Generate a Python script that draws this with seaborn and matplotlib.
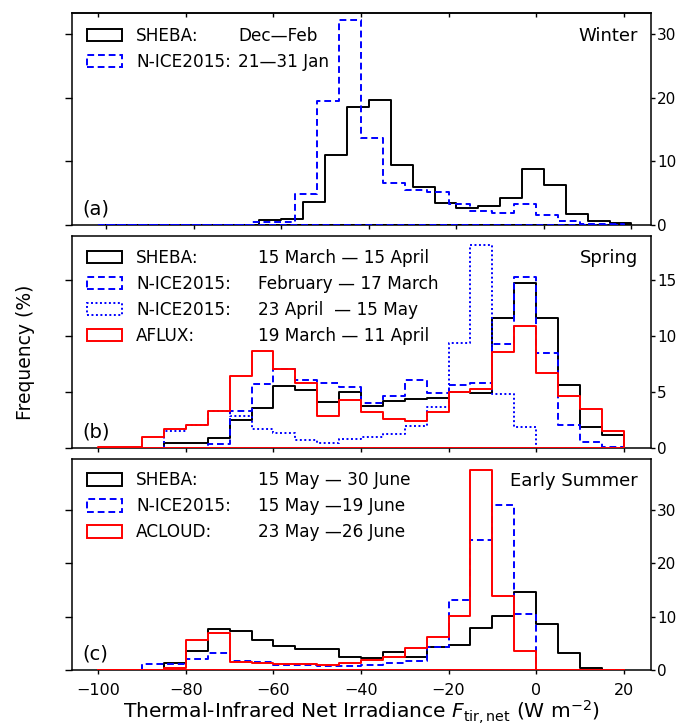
import numpy as np
import pandas as pd
import matplotlib
matplotlib.use("Agg")
import matplotlib.pyplot as plt
import seaborn as sns
from matplotlib.patches import Patch

# ---------------- data (frequency in % per 5 W m-2 bin) ----------------
bin_edges = [-100, -95, -90, -85, -80, -75, -70, -65, -60, -55, -50, -45,
             -40, -35, -30, -25, -20, -15, -10, -5, 0, 5, 10, 15, 20]
# in the reference the SHEBA winter histogram is drawn offset by this amount
sheba_winter_shift = 1.8

winter_sheba = [0, 0, 0, 0, 0, 0, 0, 0.7, 0.85, 3.5, 11.0, 18.5,
                19.7, 9.4, 6.0, 3.4, 2.6, 3.0, 4.2, 8.7, 6.3, 1.7, 0.6, 0.2]
winter_nice = [0, 0, 0, 0, 0, 0, 0, 0.45, 0.45, 4.9, 19.5, 32.3,
               13.6, 6.6, 5.4, 5.2, 3.2, 2.1, 1.8, 3.3, 1.5, 0.5, 0.1, 0.1]

spring_sheba = [0, 0, 0, 0.45, 0.45, 0.9, 2.5, 3.6, 5.55, 5.2, 4.15, 5.0,
                3.8, 4.2, 4.4, 4.5, 5.0, 4.9, 11.6, 14.7, 11.6, 5.6, 1.9, 1.2]
spring_nice_feb = [0, 0, 0, 0.05, 0.05, 0.4, 3.35, 5.7, 7.1, 6.1, 5.8, 5.5,
                   4.0, 4.7, 6.1, 4.9, 5.6, 5.8, 9.3, 15.3, 8.5, 2.1, 0.6, 0.1]
spring_nice_apr = [0, 0, 0, 1.5, 2.08, 3.3, 2.9, 1.7, 1.4, 0.74, 0.5, 0.86,
                   1.0, 1.3, 2.0, 3.7, 9.4, 18.1, 4.8, 1.9, 0, 0, 0, 0]
spring_aflux = [0.1, 0.1, 1.0, 1.75, 2.08, 3.3, 6.4, 8.7, 7.1, 5.85, 2.9, 4.3,
                3.2, 2.6, 2.4, 3.2, 5.0, 5.3, 8.6, 10.9, 6.7, 4.7, 3.5, 1.5]

summer_sheba = [0, 0, 0, 1.3, 3.6, 7.6, 7.3, 5.6, 4.45, 4.0, 3.9, 2.5,
                2.2, 3.3, 2.35, 4.3, 4.6, 7.9, 10.1, 14.7, 8.7, 3.2, 0.3, 0]
summer_nice = [0, 0, 1.07, 1.07, 2.0, 3.25, 1.7, 1.44, 0.94, 0.9, 0.75, 0.75,
               1.0, 1.25, 1.7, 4.3, 13.2, 24.3, 30.9, 10.5, 0, 0, 0, 0]
summer_acloud = [0, 0, 0.05, 0.3, 5.6, 6.9, 1.56, 1.3, 1.2, 1.1, 1.0, 1.3,
                 1.85, 2.5, 4.1, 6.2, 10.1, 37.5, 13.9, 3.5, 0, 0, 0, 0]

x_ticks = [-100, -80, -60, -40, -20, 0, 20]
y_ticks = [[0, 10, 20, 30], [0, 5, 10, 15], [0, 10, 20, 30]]
y_limits = [(-0.1, 33.3), (0, 18.95), (0, 39.6)]
x_limits = (-106.1, 26.2)

seasons = ["Winter", "Spring", "Early Summer"]
panel_tags = ["(a)", "(b)", "(c)"]

winter_names = ["SHEBA:", "N-ICE2015:"]
winter_dates = ["Dec\u2014Feb", "21\u201431 Jan"]
spring_names = ["SHEBA:", "N-ICE2015:", "N-ICE2015:", "AFLUX:"]
spring_dates = ["15 March \u2014 15 April", "February \u2014 17 March",
                "23 April  \u2014 15 May", "19 March \u2014 11 April"]
summer_names = ["SHEBA:", "N-ICE2015:", "ACLOUD:"]
summer_dates = ["15 May \u2014 30 June", "15 May \u201419 June", "23 May \u201426 June"]

# ---------------- style ----------------
sns.set_style("ticks")
plt.rcParams["font.family"] = ["DejaVu Sans"]
plt.rcParams["mathtext.fontset"] = "dejavusans"
for key in ["text.color", "axes.labelcolor", "xtick.color", "ytick.color",
            "axes.edgecolor"]:
    plt.rcParams[key] = "black"

BLACK, BLUE, RED = "#000000", "#0000ff", "#ff0000"
LW = 1.4
DASH = (0, (3.5, 2))
DOT = (0, (1, 1.3))

fig = plt.figure(figsize=(6.81, 7.27), dpi=100)
L, W = 0.1053, 0.8502
ax_a = fig.add_axes([L, 0.6901, W, 0.2916])
ax_b = fig.add_axes([L, 0.3834, W, 0.2924])
ax_c = fig.add_axes([L, 0.0784, W, 0.2906])
axes = [ax_a, ax_b, ax_c]


def hist(ax, values, color, ls, shift=0.0):
    e = [b + shift for b in bin_edges]
    c = [(e[k] + e[k + 1]) / 2 for k in range(len(e) - 1)]
    df = pd.DataFrame({"x": c, "w": [float(v) for v in values]})
    sns.histplot(data=df, x="x", weights="w", bins=e,
                 element="step", fill=True, color=color, facecolor="none",
                 edgecolor=color, linewidth=LW, linestyle=ls, zorder=3, ax=ax)


hist(ax_a, winter_sheba, BLACK, "-", shift=sheba_winter_shift)
hist(ax_a, winter_nice, BLUE, DASH)

hist(ax_b, spring_sheba, BLACK, "-")
hist(ax_b, spring_nice_feb, BLUE, DASH)
hist(ax_b, spring_nice_apr, BLUE, DOT)
hist(ax_b, spring_aflux, RED, "-")

hist(ax_c, summer_sheba, BLACK, "-")
hist(ax_c, summer_nice, BLUE, DASH)
hist(ax_c, summer_acloud, RED, "-")

legend_specs = [
    (winter_names, winter_dates, [(BLACK, "-"), (BLUE, DASH)], 0.287, 0.937),
    (spring_names, spring_dates, [(BLACK, "-"), (BLUE, DASH), (BLUE, DOT), (RED, "-")], 0.322, 0.937),
    (summer_names, summer_dates, [(BLACK, "-"), (BLUE, DASH), (RED, "-")], 0.322, 0.94),
]

FS_LEG = 12.2
for i, ax in enumerate(axes):
    ax.set_xlim(*x_limits)
    ax.set_ylim(*y_limits[i])
    ax.set_yticks(y_ticks[i])
    ax.set_ylabel("")
    ax.set_xlabel("")
    for s in ax.spines.values():
        s.set_visible(True)
        s.set_linewidth(1.1)
        s.set_color("black")
    ax.tick_params(axis="y", which="major", direction="out", left=True, right=True,
                   labelleft=False, labelright=True, length=3.2, width=1.0,
                   pad=1.5, labelsize=11, colors="black")
    for t in ax.yaxis.get_major_ticks():
        t.tick1line.set_markersize(5)
    ax.tick_params(axis="x", direction="out", length=3, width=1.0,
                   labelbottom=(i == 2), labelsize=11.5, pad=6, top=False,
                   colors="black")
    if i == 0:
        ax.set_xticks([t + sheba_winter_shift for t in x_ticks])
        sec = ax.secondary_xaxis("top")
        sec.set_xticks(x_ticks, labels=[""] * len(x_ticks))
        sec.tick_params(direction="in", length=3, width=1.0, colors="black")
        sec.spines["top"].set_linewidth(1.1)
    else:
        ax.set_xticks(x_ticks)

    names, dates, styles, xdate, ytop = legend_specs[i]
    handles = [Patch(facecolor="none", edgecolor=c, linestyle=ls, linewidth=LW)
               for c, ls in styles]
    leg1 = ax.legend(handles, names, loc="upper left", bbox_to_anchor=(0.026, ytop),
                     frameon=False, fontsize=FS_LEG, handlelength=2.1,
                     handleheight=0.75, handletextpad=0.8, labelspacing=0.47,
                     borderaxespad=0, borderpad=0, labelcolor="black")
    ax.add_artist(leg1)
    blank = [Patch(facecolor="none", edgecolor="none") for _ in dates]
    ax.legend(blank, dates, loc="upper left", bbox_to_anchor=(xdate, ytop),
              frameon=False, fontsize=FS_LEG, handlelength=0, handleheight=0.75,
              handletextpad=0, labelspacing=0.47, borderaxespad=0, borderpad=0,
              labelcolor="black")

    ax.text(0.978, 0.937, seasons[i], transform=ax.transAxes, ha="right",
            va="top", fontsize=13, color="black")
    ax.text(0.019, 0.03, panel_tags[i], transform=ax.transAxes, ha="left",
            va="bottom", fontsize=14, color="black")

ax_c.set_xlabel(r"Thermal-Infrared Net Irradiance $F_{\mathrm{tir,net}}$ (W m$^{\mathrm{-2}}$)",
                fontsize=14.6, labelpad=0.5, color="black")
fig.text(0.037, 0.516, "Frequency (%)", rotation=90, ha="center", va="center",
         fontsize=13.5, color="black")

fig.savefig("out.png", dpi=100)
